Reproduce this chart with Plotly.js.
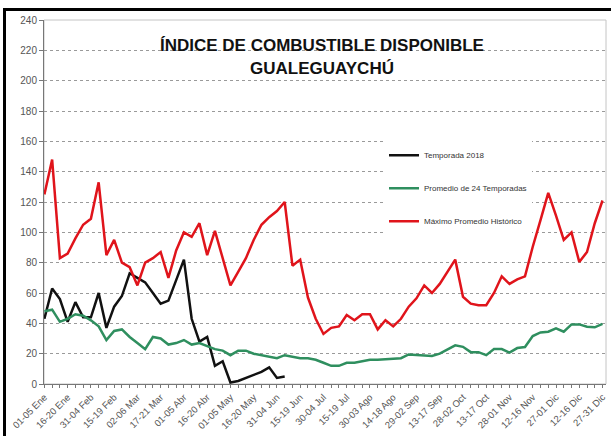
<!DOCTYPE html>
<html>
<head>
<meta charset="utf-8">
<script src="https://cdn.plot.ly/plotly-3.0.1.min.js"></script>
<style>
  html, body { margin: 0; padding: 0; background: #fff; }
  #chart { width: 611px; height: 436px; position: relative; }
  #frame { position: absolute; left: 3px; top: 8px; width: 640px; height: 460px;
           border-top: 3px solid #000; border-left: 3px solid #000; pointer-events: none; }
</style>
</head>
<body>
<div id="chart"></div>
<div id="frame"></div>
<script>
// Pentad categories (73 per year)
const categories = [
  "01-05 Ene","06-10 Ene","11-15 Ene","16-20 Ene","21-25 Ene","26-30 Ene",
  "31-04 Feb","05-09 Feb","10-14 Feb","15-19 Feb","20-24 Feb","25-01 Mar",
  "02-06 Mar","07-11 Mar","12-16 Mar","17-21 Mar","22-26 Mar","27-31 Mar",
  "01-05 Abr","06-10 Abr","11-15 Abr","16-20 Abr","21-25 Abr","26-30 Abr",
  "01-05 May","06-10 May","11-15 May","16-20 May","21-25 May","26-30 May",
  "31-04 Jun","05-09 Jun","10-14 Jun","15-19 Jun","20-24 Jun","25-29 Jun",
  "30-04 Jul","05-09 Jul","10-14 Jul","15-19 Jul","20-24 Jul","25-29 Jul",
  "30-03 Ago","04-08 Ago","09-13 Ago","14-18 Ago","19-23 Ago","24-28 Ago",
  "29-02 Sep","03-07 Sep","08-12 Sep","13-17 Sep","18-22 Sep","23-27 Sep",
  "28-02 Oct","03-07 Oct","08-12 Oct","13-17 Oct","18-22 Oct","23-27 Oct",
  "28-01 Nov","02-06 Nov","07-11 Nov","12-16 Nov","17-21 Nov","22-26 Nov",
  "27-01 Dic","02-06 Dic","07-11 Dic","12-16 Dic","17-21 Dic","22-26 Dic",
  "27-31 Dic"
];

// Temporada 2018 (available through mid June)
const temporada2018 = [
  43, 63, 56, 41, 54, 44, 44, 60, 37, 51, 58, 73,
  70, 67, 60, 53, 55, 68, 82, 43, 28, 31, 12, 15,
  1, 2, 4, 6, 8, 11, 4, 5
];

// Promedio de 24 Temporadas
const promedio24 = [
  48, 49, 41, 43, 46, 45, 42, 38, 29, 35, 36, 31,
  27, 23, 31, 30, 26, 27, 29, 26, 27, 25, 23, 22,
  19, 22, 22, 20, 19, 18, 17, 19, 18, 17, 17, 16,
  14, 12, 12, 14, 14, 15, 16, 16, 16.5, 17, 17, 19.5,
  19.3, 19, 18.5, 20, 23, 25.5, 24.5, 21, 21, 19, 23, 23,
  20.7, 23.7, 24.4, 31.6, 34, 34.5, 36.7, 34.5, 39.3, 39.3, 37.8, 37.4,
  39.6
];

// Máximo Promedio Histórico
const maximoHistorico = [
  125, 148, 83, 86, 96, 105, 109, 133, 85, 95, 80, 77,
  65, 80, 83, 87, 70, 88, 100, 97, 106, 85, 101, 83,
  65, 74, 83, 95, 105, 110, 114, 120, 78, 82, 57, 43,
  33, 37, 38, 45.5, 42, 46, 46, 36, 42, 38, 43, 51,
  56.5, 65, 60, 66, 74, 82, 57.5, 53, 52, 52, 60, 71,
  66, 69, 71, 90.5, 108, 126, 111, 95, 100, 80.5, 87, 106,
  121
];

const seriesNames = ["Temporada 2018", "Promedio de 24 Temporadas", "Máximo Promedio Histórico"];
const yTicks = [0, 20, 40, 60, 80, 100, 120, 140, 160, 180, 200, 220, 240];

const tickText = categories.map((c, i) => (i % 3 === 0 ? c : ""));

const traces = [
  { x: categories.slice(0, temporada2018.length), y: temporada2018, name: seriesNames[0],
    type: "scatter", mode: "lines", line: { color: "#111111", width: 2.5 }, legendgroup: "a" },
  { x: categories, y: promedio24, name: seriesNames[1],
    type: "scatter", mode: "lines", line: { color: "#2f8f5f", width: 2.5 }, legendgroup: "b" },
  { x: categories, y: maximoHistorico, name: seriesNames[2],
    type: "scatter", mode: "lines", line: { color: "#e0141b", width: 2.5 }, legendgroup: "c" }
];

const layout = {
  width: 611, height: 436,
  margin: { l: 44, r: 5, t: 20, b: 52 },
  paper_bgcolor: "rgba(0,0,0,0)",
  plot_bgcolor: "#ffffff",
  showlegend: true,
  title: {
    text: "<b>ÍNDICE DE COMBUSTIBLE DISPONIBLE<br>GUALEGUAYCHÚ</b>",
    font: { family: "'Liberation Sans', Arial, sans-serif", size: 17, color: "#111" },
    x: 0.527, xanchor: "center", xref: "container",
    y: 0.882, yanchor: "top", yref: "container"
  },
  xaxis: {
    type: "category",
    categoryorder: "array", categoryarray: categories,
    range: [-0.05, 72.45],
    tickmode: "array", tickvals: categories, ticktext: tickText,
    tickangle: -45,
    ticks: "outside", ticklen: 3, tickcolor: "#777",
    tickfont: { family: "'Liberation Sans', Arial, sans-serif", size: 9.5, color: "#555" },
    showline: true, linecolor: "#777", linewidth: 1,
    showgrid: false, zeroline: false, fixedrange: true
  },
  yaxis: {
    range: [0, 240],
    tickmode: "array", tickvals: yTicks,
    ticks: "outside", ticklen: 4, tickcolor: "#777",
    tickfont: { family: "'Liberation Sans', Arial, sans-serif", size: 10, color: "#555" },
    showline: true, linecolor: "#777", linewidth: 1,
    showgrid: true, gridcolor: "#9a9a9a", griddash: "dot", gridwidth: 1,
    zeroline: false, fixedrange: true
  },
  legend: {
    x: 0.605, xanchor: "left", xref: "paper",
    y: 0.668, yanchor: "top", yref: "paper",
    bgcolor: "#ffffff", borderwidth: 0,
    traceorder: "grouped", tracegroupgap: 14,
    itemwidth: 30,
    font: { family: "'Liberation Sans', Arial, sans-serif", size: 8, color: "#333" }
  },
  shapes: [
    { type: "rect", xref: "paper", yref: "paper", x0: 0, x1: 1, y0: 0, y1: 1,
      line: { color: "#c4c4c4", width: 1 }, layer: "below" }
  ]
};

Plotly.newPlot("chart", traces, layout, { displayModeBar: false, staticPlot: true });
</script>
</body>
</html>
